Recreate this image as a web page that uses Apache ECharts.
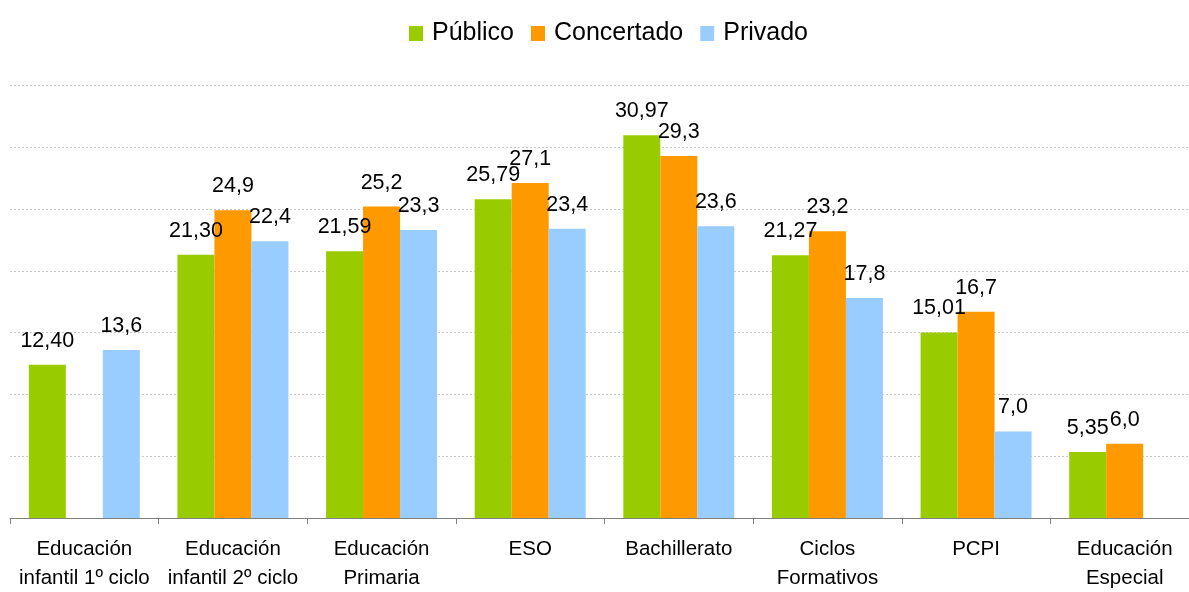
<!DOCTYPE html>
<html>
<head>
<meta charset="utf-8">
<script src="https://cdn.jsdelivr.net/npm/echarts@6/dist/echarts.min.js"></script>
<style>html,body{margin:0;padding:0;background:#fff;}#c{width:1189px;height:592px;}</style>
</head>
<body>
<div id="c"></div>
<script>
var categories = ["Educación\ninfantil 1º ciclo", "Educación\ninfantil 2º ciclo", "Educación\nPrimaria", "ESO", "Bachillerato", "Ciclos\nFormativos", "PCPI", "Educación\nEspecial"];
var publico = [12.40, 21.30, 21.59, 25.79, 30.97, 21.27, 15.01, 5.35];
var concertado = [null, 24.9, 25.2, 27.1, 29.3, 23.2, 16.7, 6.0];
var privado = [13.6, 22.4, 23.3, 23.4, 23.6, 17.8, 7.0, null];

var FONT = '"Liberation Sans", Arial, sans-serif';
function fmt(dec) {
  return function (p) {
    if (p.value == null) return '';
    return Number(p.value).toFixed(dec).replace('.', ',');
  };
}
function series(name, data, color, dec) {
  return {
    name: name, type: 'bar', data: data, barWidth: 37, barGap: '0%',
    itemStyle: { color: color },
    labelLayout: { hideOverlap: false },
    label: { show: true, position: 'top', distance: 13, color: '#000', fontSize: 21.5, fontFamily: FONT, formatter: fmt(dec) }
  };
}
var chart = echarts.init(document.getElementById('c'));
chart.setOption({
  animation: false,
  legend: {
    top: 16, left: 404, itemWidth: 14, itemHeight: 15, itemGap: 17,
    icon: 'rect',
    textStyle: { fontSize: 25, fontFamily: FONT, color: '#000', padding: [0, 0, 0, 4] },
    data: ['Público', 'Concertado', 'Privado']
  },
  grid: { left: 10, top: 85.5, width: 1189, bottom: 74, containLabel: false, outerBoundsMode: 'none' },
  xAxis: {
    type: 'category', data: categories,
    axisLine: { lineStyle: { color: '#808080', width: 1 } },
    axisTick: { show: true, length: 6, lineStyle: { color: '#808080' } },
    axisLabel: { interval: 0, color: '#000', fontSize: 20.5, fontFamily: FONT, margin: 17, lineHeight: 29 }
  },
  yAxis: {
    type: 'value', min: 0, max: 35, interval: 5,
    axisLine: { show: false }, axisTick: { show: false }, axisLabel: { show: false },
    splitLine: { lineStyle: { color: '#c8c8c8', type: [2, 2], width: 1 } }
  },
  series: [
    series('Público', publico, '#99CC00', 2),
    series('Concertado', concertado, '#FF9900', 1),
    series('Privado', privado, '#99CCFF', 1)
  ]
});
</script>
</body>
</html>
